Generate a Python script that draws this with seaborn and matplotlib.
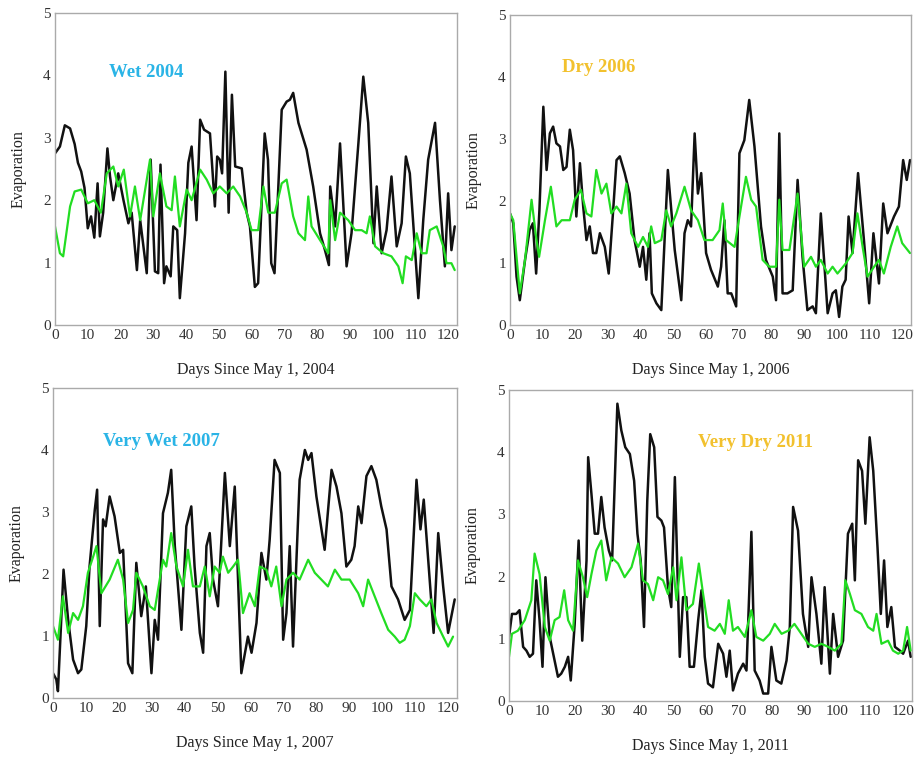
import numpy as np
import pandas as pd
import matplotlib
matplotlib.use("Agg")
import matplotlib.pyplot as plt
import seaborn as sns
from matplotlib.ticker import MultipleLocator

# ---------------- data ----------------
wet2004_black_days = [0,1.5,3,4.6,6,7,8,9,10,11,12,13,13.7,14.7,16,16.8,17.8,19.3,20.9,22.4,23.4,25,26,28,29.2,30.5,31.5,32.2,33.3,34,35.3,36.1,37.3,38.1,39.7,40.7,41.7,43.2,44.3,45.5,47.3,48.8,49.5,50.3,51,52,53,54,55,57,58.5,59.5,61,62,64,65,66,67,69.2,70.7,71.7,72.7,74.3,76.8,78.8,80.9,82.4,83.6,84,85.5,87,89,90.5,92.6,94.1,95.6,97.2,98.2,99.7,101.2,102.7,104.3,105.8,107.1,108.3,110.9,112.4,113.9,116,117.5,119,120,121,122]
wet2004_black_vals = [2.75,2.86,3.2,3.15,2.9,2.6,2.46,2.2,1.55,1.74,1.4,2.27,1.42,1.8,2.83,2.38,2.0,2.43,2.0,1.63,1.8,0.88,1.68,0.83,2.65,0.86,0.83,2.57,0.67,0.94,0.78,1.58,1.52,0.43,1.47,2.6,2.86,1.68,3.29,3.13,3.07,1.9,2.7,2.65,2.43,4.06,1.8,3.69,2.54,2.51,1.8,1.58,0.61,0.67,3.07,2.65,0.99,0.83,3.45,3.58,3.61,3.72,3.24,2.81,2.22,1.47,1.2,0.96,2.22,1.58,2.91,0.94,1.47,2.91,3.98,3.24,1.31,2.22,1.15,1.52,2.38,1.26,1.63,2.7,2.43,0.43,1.68,2.65,3.24,2.0,0.94,2.11,1.2,1.58]
wet2004_green_days = [0,1.5,2.5,4.6,6,8,10,12,14,15.8,17.8,19.3,21,22.9,24.4,26,29,30,32,34,35.6,36.6,38.1,40.2,41.7,44.3,46.3,48.3,50.3,52.4,54.4,56.5,58.5,60,62,63.6,65.1,67.1,69.2,70.7,72.7,74.3,76.3,77.3,78.3,80.9,83.4,84,85.5,87,89.5,91.6,93.6,95.1,96.1,97.7,100.2,102.7,104.8,106.1,107.1,108.9,110.4,111.9,113.4,114.4,116.5,118.5,119.5,121,122]
wet2004_green_vals = [1.58,1.15,1.1,1.9,2.14,2.17,1.95,2.0,1.8,2.43,2.54,2.22,2.49,1.74,2.22,1.68,2.65,1.74,2.43,1.9,1.84,2.38,1.58,2.17,2.0,2.49,2.33,2.11,2.22,2.11,2.22,2.06,1.8,1.52,1.52,2.22,1.8,1.8,2.27,2.33,1.74,1.47,1.36,2.06,1.58,1.36,1.15,2.0,1.36,1.8,1.68,1.52,1.52,1.47,1.74,1.26,1.15,1.1,0.94,0.67,1.1,1.04,1.47,1.15,1.15,1.52,1.58,1.26,0.99,0.99,0.88]

dry2006_black_days = [0,1,2,3,4.6,6,7,8,9,10.2,11.2,12.2,13.2,14.2,15.3,16.3,17.3,18.3,19.3,20.3,21.4,22.4,23.4,24.4,25.4,26.4,27.5,29,30.2,31.5,32.6,33.6,35.1,36.6,38.1,39.7,40.7,41.7,42.7,43.4,44.8,46.3,48.3,50.4,52.4,53.4,54.4,55.4,56.5,57.5,58.5,60,61.5,63.6,64.6,65.6,66.6,67.7,69.2,70.2,71.7,73.2,74.8,76.8,78.3,80.4,81.4,82.4,83.4,84.9,86.5,88,89.5,91,92.6,93.6,95.1,96.1,97.2,98.7,99.7,100.7,101.7,102.7,103.6,104.8,106.5,108.3,109.9,111.2,112.9,114.2,115.5,117.5,119,120.3,121.4,122.4]
dry2006_black_vals = [1.8,1.64,0.78,0.4,1.05,1.53,1.64,0.83,1.85,3.52,2.5,3.09,3.2,2.93,2.88,2.5,2.55,3.15,2.82,1.75,2.61,1.91,1.37,1.59,1.16,1.16,1.48,1.26,0.83,1.8,2.66,2.72,2.45,2.12,1.37,0.94,1.26,0.73,1.48,0.51,0.35,0.24,2.5,1.21,0.4,1.48,1.69,1.59,3.09,2.12,2.45,1.16,0.89,0.62,0.94,1.69,0.51,0.51,0.3,2.77,2.98,3.63,2.88,1.59,1.05,0.78,0.4,3.09,0.51,0.51,0.56,2.34,1.1,0.24,0.3,0.19,1.8,1.05,0.19,0.51,0.56,0.13,0.62,0.73,1.75,1.16,2.45,1.37,0.35,1.48,0.67,1.96,1.48,1.75,1.91,2.66,2.34,2.66]
dry2006_green_days = [0,1,3,4.6,6.6,8.1,8.9,10.7,12.5,14.2,15.8,18.3,19.8,21.7,23.4,24.9,26.4,28,29.5,31,32.6,34.1,35.6,37.1,39.2,40.7,42.2,43.2,44.3,46.3,47.8,49.3,50.9,53.4,55.4,57.5,59.5,62,64.1,65.1,66.1,68.7,70.7,72.2,73.8,75.3,77.3,79.3,81.4,82.4,83.4,85.5,88,90,92.1,93.6,95.1,97.2,98.7,100.2,102.7,104.8,106.3,107.9,109.4,111.4,112.9,114.4,116.5,118.5,120,122.4]
dry2006_green_vals = [1.8,1.69,0.51,1.05,2.02,1.37,1.1,1.69,2.23,1.59,1.69,1.69,2.02,2.18,1.8,1.75,2.5,2.12,2.28,1.8,1.91,1.8,2.28,1.48,1.26,1.42,1.26,1.59,1.32,1.37,1.85,1.59,1.8,2.23,1.85,1.69,1.37,1.37,1.53,1.96,1.37,1.26,1.91,2.39,2.02,1.91,1.05,0.94,0.94,2.02,1.21,1.21,2.12,0.94,1.1,0.94,1.05,0.83,0.94,0.83,0.99,1.16,1.8,1.26,0.78,0.94,1.05,0.83,1.26,1.59,1.32,1.16]

vwet2007_black_days = [0,1,1.5,2.5,3.2,4.6,6.1,7.6,8.6,10.1,11.1,12.7,13.4,14.2,15.2,16,17.2,18.7,20.3,21.3,22.8,24.1,25.3,26.8,28.2,29.9,30.9,31.9,33.4,34.9,35.9,37,39,40.5,42,43,44.6,45.6,46.6,47.6,48.6,50.1,52.2,53.7,55.2,56.2,57.2,59.2,60.3,61.8,63.3,64.8,65.8,67.3,68.9,69.9,70.9,71.9,72.9,74.9,76.5,77.5,78.5,80,82.5,84.6,86.1,87.6,89.1,90.6,91.6,92.7,93.7,95.2,96.7,98.2,99.7,101.3,102.8,104.8,106.8,108.4,110.4,111.6,112.6,114.4,115.6,117,118.5,120,122]
vwet2007_black_vals = [0.4,0.3,0.11,1.26,2.07,1.26,0.62,0.4,0.46,1.16,2.12,3.04,3.36,1.16,2.88,2.77,3.25,2.93,2.34,2.39,0.56,0.4,2.18,1.32,1.8,0.4,1.26,0.94,2.98,3.31,3.68,2.45,1.1,2.77,3.09,2.12,1.05,0.73,2.45,2.66,1.91,1.48,3.63,2.45,3.41,1.91,0.4,0.99,0.73,1.21,2.34,1.91,2.55,3.84,3.63,0.94,1.37,2.45,0.83,3.52,4.0,3.84,3.95,3.25,2.39,3.68,3.41,2.98,2.12,2.23,2.45,3.09,2.82,3.58,3.74,3.52,3.09,2.72,1.8,1.59,1.26,1.42,3.52,2.72,3.2,1.91,1.05,2.66,1.8,1.05,1.59]
vwet2007_green_days = [0,1.5,3,4.6,6.1,7.6,9.1,10.6,12.2,13.2,14.7,17.2,19.7,21.3,22.8,24.3,25.3,27.3,29.4,30.9,33.4,34.4,35.9,37.5,39.5,41,42.5,44.6,46.1,47.6,49.1,50.6,51.6,53.2,54.7,56.2,57.7,59.7,61.3,62.8,64.8,66.3,67.8,69.4,70.9,72.9,74.9,77.5,79.5,81.5,83.5,85.6,87.6,90.1,92.7,94.2,95.7,97.7,99.7,101.8,103.8,105.3,106.8,108.4,109.9,111.4,113.4,114.9,116.5,118.5,120,121.5]
vwet2007_green_vals = [1.16,0.94,1.64,1.05,1.37,1.26,1.48,2.02,2.28,2.45,1.69,1.91,2.23,1.91,1.21,1.42,2.02,1.8,1.48,1.42,2.23,2.12,2.66,2.12,1.8,2.39,1.8,1.8,2.12,1.64,2.12,2.02,2.28,2.02,2.12,2.23,1.37,1.69,1.48,2.12,2.07,1.8,2.12,1.48,1.91,2.02,1.91,2.23,2.02,1.91,1.8,2.07,1.91,1.91,1.69,1.48,1.91,1.64,1.37,1.1,0.99,0.89,0.94,1.16,1.69,1.59,1.48,1.59,1.21,0.99,0.83,0.99]

vdry2011_black_days = [0,0.9,2.2,3.2,4.3,5.3,6.3,7.3,8.3,9.3,10.2,11.1,12.4,14.9,15.9,17,18,18.8,20,21.2,22.3,23.6,24.1,25.1,26.1,27.1,28.1,29.1,30.4,31.4,33,34.2,35.4,36.8,38.1,39.1,40.1,41.1,42.1,43,44.2,45.2,46.4,47.2,48.4,49.4,50.5,52,53,54,55,56.3,57.6,58.6,59.6,60.6,62.1,63.7,65.2,66.2,67.2,68.2,69.7,71.3,72.3,73.8,74.8,76.3,77.4,78.9,79.9,81.4,82.9,84.5,85.5,86.5,88,89.5,91.1,92.1,93.6,95.1,96.1,97.7,98.7,100.2,101.7,103.2,104.5,105.3,106.3,107.5,108.5,109.8,110.9,112.2,113.2,114.2,115.2,116.4,117.5,119,120,121.5,122.3]
vdry2011_black_vals = [1.03,1.4,1.4,1.46,0.87,0.81,0.71,0.76,1.94,1.3,0.55,1.99,1.03,0.39,0.44,0.55,0.71,0.33,1.24,2.58,0.97,2.26,3.92,3.33,2.69,2.69,3.28,2.79,2.42,2.26,4.78,4.35,4.08,3.97,3.54,2.69,2.26,1.19,3.22,4.29,4.08,2.96,2.9,2.79,1.83,1.51,3.6,0.71,1.67,1.67,0.55,0.55,1.3,1.78,0.71,0.28,0.22,0.92,0.76,0.39,0.81,0.17,0.44,0.6,0.49,2.72,0.49,0.33,0.12,0.12,0.87,0.33,0.28,0.65,1.19,3.12,2.74,1.4,0.87,1.99,1.4,0.6,1.83,0.44,1.4,0.71,0.97,2.69,2.85,1.94,3.87,3.7,2.85,4.24,3.7,2.47,1.4,2.26,1.19,1.51,0.87,0.81,0.76,0.97,0.71]
vdry2011_green_days = [0,0.9,2.7,4.8,6.8,7.8,9.3,10.9,12.4,13.9,15.4,16.8,18,19.5,21,22.5,23.8,25.1,26.6,28.1,29.6,31.2,33.2,35.2,37.3,39.3,40.8,42.3,43.9,45.4,46.9,48.4,50,51,52.5,54,56,57.8,59.1,60.6,62.6,64.2,65.7,66.9,68.2,69.7,71.8,73.8,75.3,77.4,79.4,80.9,83,85,86.9,89,91.1,93.1,95.1,97.2,99.2,101.2,102.4,103.8,105.3,107.3,109.3,110.9,111.9,113.4,115.4,116.9,118.5,120,121.2,122.3]
vdry2011_green_vals = [0.71,1.08,1.13,1.3,1.62,2.37,2.04,1.19,0.97,1.3,1.35,1.78,1.3,1.13,2.26,1.99,1.67,2.04,2.42,2.58,1.94,2.31,2.21,1.99,2.15,2.53,1.94,1.88,1.62,1.99,1.94,1.72,2.15,1.62,2.31,1.46,1.56,2.21,1.72,1.19,1.13,1.24,1.08,1.62,1.13,1.19,1.03,1.46,1.03,0.97,1.08,1.24,1.08,1.13,1.24,1.08,0.92,0.87,0.92,0.87,0.81,0.92,1.94,1.72,1.46,1.4,1.19,1.13,1.4,0.92,0.97,0.81,0.76,0.81,1.19,0.81]

panel_titles = ["Wet 2004", "Dry 2006", "Very Wet 2007", "Very Dry 2011"]
panel_xlabels = ["Days Since May 1, 2004", "Days Since May 1, 2006",
                 "Days Since May 1, 2007", "Days Since May 1, 2011"]
ylabel = "Evaporation"

# ---------------- style ----------------
sns.set_style("white")
plt.rcParams['font.family'] = ['Liberation Serif', 'DejaVu Serif']

W, H = 915, 757
fig = plt.figure(figsize=(W / 100, H / 100), dpi=100)

# axes boxes in pixels: left, right, top, bottom
boxes = [(55, 457, 13, 325), (510, 911, 15, 325), (53, 457, 388, 698), (509, 912, 390, 701)]
title_pos = [(28, 4.05), (27, 4.16), (33, 4.13), (75, 4.15)]
title_col = ["#2ab4e6", "#f2c12e", "#2ab4e6", "#f2c12e"]
series = [
    (wet2004_black_days, wet2004_black_vals, wet2004_green_days, wet2004_green_vals),
    (dry2006_black_days, dry2006_black_vals, dry2006_green_days, dry2006_green_vals),
    (vwet2007_black_days, vwet2007_black_vals, vwet2007_green_days, vwet2007_green_vals),
    (vdry2011_black_days, vdry2011_black_vals, vdry2011_green_days, vdry2011_green_vals),
]

for i, (box, (bx, by, gx, gy)) in enumerate(zip(boxes, series)):
    l, r, t, b = box
    ax = fig.add_axes([l / W, 1 - b / H, (r - l) / W, (b - t) / H])
    sns.lineplot(x=bx, y=by, ax=ax, color="#111111", lw=1.8, sort=False, estimator=None)
    sns.lineplot(x=gx, y=gy, ax=ax, color="#22dd22", lw=1.6, sort=False, estimator=None)
    ax.set_xlim(0, 122.7)
    ax.set_ylim(0, 5)
    ax.xaxis.set_major_locator(MultipleLocator(10))
    ax.xaxis.set_minor_locator(MultipleLocator(5))
    ax.yaxis.set_major_locator(MultipleLocator(1))
    ax.yaxis.set_minor_locator(MultipleLocator(0.5))
    ax.tick_params(which='major', direction='in', length=6, width=0.8, color='#777777',
                   labelsize=11, pad=3, labelcolor='#333333', top=False, right=False)
    ax.tick_params(which='minor', direction='in', length=3, width=0.8, color='#777777',
                   top=False, right=False)
    for s in ax.spines.values():
        s.set_color('#aaaaaa')
        s.set_linewidth(1.0)
    ax.set_xlabel(panel_xlabels[i], fontsize=11.5, labelpad=14, color='#222222')
    ax.set_ylabel(ylabel, fontsize=11.5, labelpad=12, color='#222222')
    tx, ty = title_pos[i]
    ax.text(tx, ty, panel_titles[i], color=title_col[i], fontsize=13.5,
            fontweight='bold', ha='center', va='center')

fig.savefig("out.png", dpi=100)
